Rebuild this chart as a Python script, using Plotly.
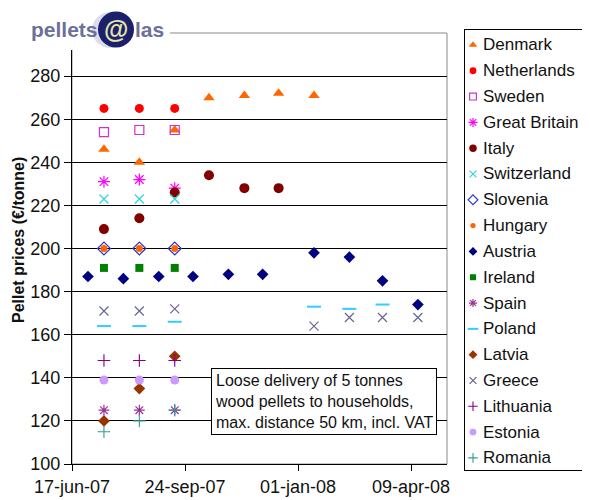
import plotly.graph_objects as go

# ---------------- data ----------------
dates_mid = ["2007-07-15", "2007-08-15", "2007-09-15", "2007-10-15", "2007-11-15",
             "2007-12-15", "2008-01-15", "2008-02-15", "2008-03-15", "2008-04-15"]
dates_austria = ["2007-07-01", "2007-08-01", "2007-09-01", "2007-10-01", "2007-11-01",
                 "2007-12-01", "2008-01-15", "2008-02-15", "2008-03-15", "2008-04-15"]

denmark = [246, 240, 255, 270, 271, 272, 271, None, None, None]
netherlands = [265, 265, 265, None, None, None, None, None, None, None]
sweden = [254, 255, 255, None, None, None, None, None, None, None]
great_britain = [231, 232, 228, None, None, None, None, None, None, None]
italy = [209, 214, 226, 234, 228, 228, None, None, None, None]
switzerland = [223, 223, 223, None, None, None, None, None, None, None]
slovenia = [200, 200, 200, None, None, None, None, None, None, None]
hungary = [200, 200, 200, None, None, None, None, None, None, None]
austria = [187, 186, 187, 187, 188, 188, 198, 196, 185, 174]
ireland = [191, 191, 191, None, None, None, None, None, None, None]
spain = [125, 125, 125, None, None, None, None, None, None, None]
poland = [164, 164, 166, None, None, None, 173, 172, 174, None]
latvia = [120, 135, 150, None, None, None, None, None, None, None]
greece = [171, 171, 172, None, None, None, 164, 168, 168, 168]
lithuania = [148, 148, 148, None, None, None, None, None, None, None]
estonia = [139, 139, 139, None, None, None, None, None, None, None]
romania = [115, 120, 125, None, None, None, None, None, None, None]

countries = ["Denmark", "Netherlands", "Sweden", "Great Britain", "Italy", "Switzerland",
             "Slovenia", "Hungary", "Austria", "Ireland", "Spain", "Poland", "Latvia",
             "Greece", "Lithuania", "Estonia", "Romania"]
values = [denmark, netherlands, sweden, great_britain, italy, switzerland, slovenia,
          hungary, austria, ireland, spain, poland, latvia, greece, lithuania, estonia, romania]
xdates = [dates_austria if c == "Austria" else dates_mid for c in countries]

y_ticks = [100, 120, 140, 160, 180, 200, 220, 240, 260, 280]
x_tickvals = ["2007-06-17", "2007-09-24", "2008-01-01", "2008-04-09"]
x_ticktext = ["17-jun-07", "24-sep-07", "01-jan-08", "09-apr-08"]

# ---------------- styles ----------------
styles = {
    "Denmark": dict(symbol="triangle-up", size=10, color="#FF6600"),
    "Netherlands": dict(symbol="circle", size=9, color="#FF0000"),
    "Sweden": dict(symbol="square-open", size=9, color="#CC33CC", line=dict(width=1.2, color="#CC33CC")),
    "Great Britain": dict(symbol="asterisk-open", size=10, color="#FF00FF", line=dict(width=1.2, color="#FF00FF")),
    "Italy": dict(symbol="circle", size=10, color="#800000"),
    "Switzerland": dict(symbol="x-thin-open", size=9, color="#33D6E0", line=dict(width=1.3, color="#33D6E0")),
    "Slovenia": dict(symbol="diamond-open", size=10, color="#3333CC", line=dict(width=1.2, color="#3333CC")),
    "Hungary": dict(symbol="circle", size=7, color="#FF6600"),
    "Austria": dict(symbol="diamond", size=9, color="#000080"),
    "Ireland": dict(symbol="square", size=8, color="#008000"),
    "Spain": dict(symbol="asterisk-open", size=9, color="#993399", line=dict(width=1.2, color="#993399")),
    "Poland": dict(symbol="line-ew-open", size=10, color="#33CCFF", line=dict(width=2, color="#33CCFF")),
    "Latvia": dict(symbol="diamond", size=9, color="#993300"),
    "Greece": dict(symbol="x-thin-open", size=9, color="#666699", line=dict(width=1.2, color="#666699")),
    "Lithuania": dict(symbol="cross-thin-open", size=9, color="#800080", line=dict(width=1.1, color="#800080")),
    "Estonia": dict(symbol="circle", size=9, color="#CC99FF"),
    "Romania": dict(symbol="cross-thin-open", size=9, color="#339999", line=dict(width=1.1, color="#339999")),
}

def legend_style(st):
    s = dict(st)
    s["size"] = round(st["size"] * 0.75, 1)
    return s

# page has an 8px body margin; the figure fills the rest of the 590x500 window
OFF = 8
W, H = 590 - OFF, 500 - OFF
def fx(px):
    return (px - OFF) / W
def fy(py):
    return (H - (py - OFF)) / H

FONT = "Liberation Sans, Arial, sans-serif"

fig = go.Figure()
for c, xs, ys in zip(countries, xdates, values):
    fig.add_trace(go.Scatter(x=xs, y=ys, mode="markers", name=c, marker=styles[c],
                             showlegend=False, xaxis="x", yaxis="y"))

# legend keys (legend panel on its own axes)
for i, c in enumerate(countries):
    fig.add_trace(go.Scatter(x=[0.065], y=[i], mode="markers", marker=legend_style(styles[c]),
                             showlegend=False, hoverinfo="skip", xaxis="x2", yaxis="y2"))

annotations = []
for i, c in enumerate(countries):
    annotations.append(dict(xref="x2", yref="y2", x=0.13, y=i, text=c, showarrow=False,
                            xanchor="left", yanchor="middle",
                            font=dict(family=FONT, size=17, color="#111")))

annotations.append(dict(xref="paper", yref="paper", x=fx(324), y=fy(401.5),
                        text="Loose delivery of 5 tonnes<br>wood pellets to households,<br>max. distance 50 km, incl. VAT",
                        showarrow=False, align="left", xanchor="center", yanchor="middle",
                        bgcolor="white", bordercolor="black", borderwidth=1, borderpad=3,
                        font=dict(family=FONT, size=16, color="#111")))

annotations.append(dict(xref="paper", yref="paper", x=fx(18), y=fy(240),
                        text="<b>Pellet prices (€/tonne)</b>", textangle=-90, showarrow=False,
                        xanchor="center", yanchor="middle",
                        font=dict(family=FONT, size=16, color="#111")))

# logo texts
annotations.append(dict(xref="paper", yref="paper", x=fx(29), y=fy(30), text="<b>pellets</b>",
                        showarrow=False, xanchor="left", yanchor="middle",
                        font=dict(family=FONT, size=21, color="#6D7099")))
annotations.append(dict(xref="paper", yref="paper", x=fx(133), y=fy(30), text="<b>las</b>",
                        showarrow=False, xanchor="left", yanchor="middle",
                        font=dict(family=FONT, size=21, color="#6D7099")))
annotations.append(dict(xref="paper", yref="paper", x=fx(116), y=fy(29), text="<b>@</b>",
                        showarrow=False, xanchor="center", yanchor="middle",
                        font=dict(family=FONT, size=25, color="#E4E6A6")))

shapes = [
    # plot area border (grey)
    dict(type="rect", xref="x domain", yref="y domain", x0=0, x1=1, y0=0, y1=1,
         line=dict(color="#8A8A8A", width=1), layer="below"),
    # white patch behind logo
    dict(type="rect", xref="paper", yref="paper", x0=0, x1=fx(170), y0=fy(50), y1=1,
         fillcolor="white", line=dict(width=0), layer="above"),
    dict(type="circle", xref="paper", yref="paper", x0=fx(92), x1=fx(129), y0=fy(48), y1=fy(12),
         fillcolor="#DCDCEC", line=dict(width=0), layer="above"),
    dict(type="circle", xref="paper", yref="paper", x0=fx(98), x1=fx(134), y0=fy(47.5), y1=fy(11.5),
         fillcolor="#1C1F6B", line=dict(width=0), layer="above"),
]

fig.update_layout(
    width=W, height=H,
    margin=dict(l=0, r=0, t=0, b=0, autoexpand=False),
    paper_bgcolor="white", plot_bgcolor="white",
    font=dict(family=FONT, size=18, color="#111"),
    showlegend=False,
    xaxis=dict(domain=[fx(72), fx(447)], type="date", automargin=False,
               range=["2007-06-17", "2008-05-10 12:00"],
               tickvals=x_tickvals, ticktext=x_ticktext,
               ticks="outside", ticklen=6, tickcolor="black",
               showline=True, linecolor="black", linewidth=1,
               showgrid=False, zeroline=False,
               tickfont=dict(family=FONT, size=18, color="#111")),
    yaxis=dict(domain=[fy(464), fy(33)], range=[100, 300], automargin=False,
               tickvals=y_ticks, ticks="outside", ticklen=7, tickcolor="black",
               showline=True, linecolor="black", linewidth=1,
               showgrid=True, gridcolor="black", gridwidth=1, zeroline=False,
               tickfont=dict(family=FONT, size=18, color="#111")),
    xaxis2=dict(domain=[fx(465), fx(588)], range=[0, 1], anchor="y2", automargin=False,
                showgrid=False, zeroline=False, showticklabels=False, ticks="",
                showline=True, mirror=True, linecolor="black", linewidth=1),
    yaxis2=dict(domain=[fy(470), fy(30)], range=[16.47, -0.58], anchor="x2", automargin=False,
                showgrid=False, zeroline=False, showticklabels=False, ticks="",
                showline=True, mirror=True, linecolor="black", linewidth=1),
    annotations=annotations,
    shapes=shapes,
)

fig.write_html("out.html")
